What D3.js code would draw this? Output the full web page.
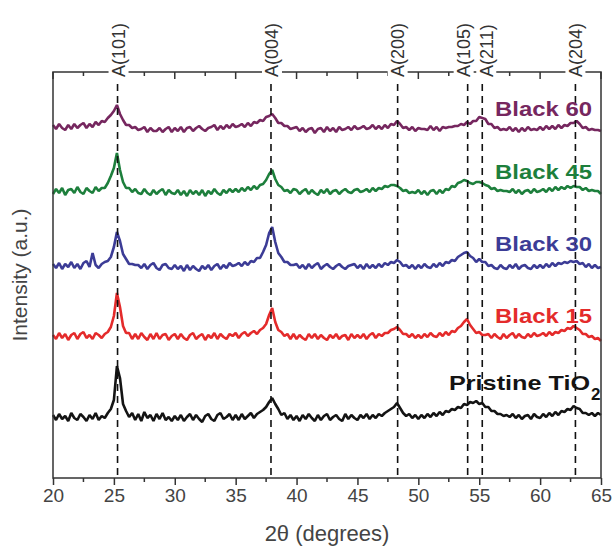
<!DOCTYPE html>
<html>
<head>
<meta charset="utf-8">
<script src="https://cdn.jsdelivr.net/npm/d3@7"></script>
<style>
  body { margin: 0; background: #fff; }
  svg { font-family: "Liberation Sans", Arial, sans-serif; }
</style>
</head>
<body>
<div id="chart"></div>
<script>
// 2theta grid of the scans (degrees), one reading every 0.25
var twoTheta = d3.range(0, 181).map(i => 20 + i * 0.25);

// reflection positions and their labels
var peakPos = [25.3, 37.9, 48.3, 54.05, 55.25, 62.9];
var peakLabels = ['A(101)', 'A(004)', 'A(200)', 'A(105)', 'A(211)', 'A(204)'];

// sample names, stacking offsets (a.u.), colours
var sampleNames = ['Pristine TiO', 'Black 15', 'Black 30', 'Black 45', 'Black 60'];
var sampleOffsets = [60, 141, 211, 286, 349];
var sampleColors = ['#141414', '#e42b2b', '#3c3c96', '#1d7f3c', '#76275f'];

// intensities above each offset (a.u.)
var pristine = [
  3,-2,4,-1,2,-3,5,0,-2,4,1,-3,3,-1,5,-2,2,0,5,9,
  18,52,40,14,7,1,5,-2,4,-3,6,0,3,-3,4,-1,5,-2,1,-3,
  2,-2,3,-3,1,4,-2,3,-1,-4,2,4,-1,-3,3,5,-1,1,4,-2,
  3,-2,4,-1,2,5,0,4,6,8,11,16,20,14,9,3,5,-1,3,-2,
  2,-3,3,-1,4,0,-3,3,-2,2,4,-2,1,3,-1,-3,4,-1,3,0,
  -2,3,0,4,-1,3,0,4,2,5,7,9,11,15,10,5,2,4,0,3,
  -1,3,0,4,1,5,2,6,3,7,6,9,8,11,10,14,13,16,15,17,
  14,15,11,11,7,7,4,4,2,3,1,4,0,3,-1,2,3,-1,4,1,
  0,4,1,5,2,6,3,7,6,9,8,12,10,9,5,5,3,5,2,5,3
];
var black15 = [
  2,-2,4,-1,3,-3,2,4,-2,3,5,-1,2,-2,4,2,-1,3,5,10,
  21,44,30,11,4,4,-2,3,-2,4,0,-3,3,-2,4,-2,2,3,-3,1,
  3,-2,3,-1,-3,2,4,-2,1,3,-3,2,-1,4,-2,3,0,-2,3,1,
  4,-1,3,5,1,4,6,3,7,9,13,22,29,15,7,5,1,3,-2,3,
  -2,2,-1,-3,3,-1,3,-2,2,-1,-3,2,-1,3,-2,1,2,-3,3,-1,
  2,-1,3,-2,2,4,-1,3,1,4,4,7,8,10,7,3,3,0,3,-1,
  2,-1,3,0,4,1,0,4,1,5,2,6,5,9,11,15,18,12,8,4,
  5,2,2,3,-1,3,0,-2,3,-1,2,4,-1,3,0,-1,3,0,4,1,
  2,4,1,5,2,5,4,7,6,9,8,11,9,7,3,3,0,1,-2,-1,-4
];
var black30 = [
  3,-1,4,-2,3,0,5,-1,3,-2,4,6,0,14,2,-1,3,5,6,10,
  20,35,26,13,8,3,3,2,2,-1,3,-2,2,4,-1,-3,2,3,-1,-2,
  2,-2,1,-4,2,-3,1,-2,-4,1,-2,2,-3,1,3,-2,2,-1,4,1,
  2,4,1,5,2,6,5,9,9,15,22,34,40,25,14,10,5,5,2,2,
  3,-1,2,-2,3,-1,2,4,-2,1,3,0,-2,1,3,0,-2,1,2,3,
  -1,2,-2,3,-1,2,-1,3,0,4,2,5,4,7,5,1,2,-1,2,-2,
  2,-1,3,0,-1,3,0,4,1,5,4,7,6,10,12,14,15,11,9,5,
  8,5,5,1,2,-1,-2,2,-1,-2,2,-1,3,-2,1,2,-1,-2,2,-1,
  2,-1,3,0,4,1,4,3,5,4,6,5,6,3,4,0,3,-1,2,-1,0
];
var black45 = [
  -2,3,-1,4,-3,2,3,-1,5,0,-2,4,1,-1,5,1,4,4,9,16,
  24,39,22,10,4,4,0,3,-1,-2,3,-1,-3,2,-2,1,3,-3,2,-1,
  -2,2,-3,1,-4,2,-2,1,-3,2,-4,1,-2,3,-1,-3,2,-1,3,0,
  3,0,4,1,5,2,6,3,7,8,12,18,22,13,7,5,1,2,-1,3,
  2,-2,1,3,-2,2,-1,-3,2,-1,3,-2,1,2,-2,1,3,0,-1,2,
  3,0,1,3,0,4,1,4,3,6,5,7,7,6,4,1,2,-1,0,-1,
  2,-2,1,-3,1,2,-2,2,-1,3,2,6,5,9,10,12,11,9,8,10,
  10,9,7,6,3,4,1,2,1,1,0,3,-1,2,-2,1,2,-1,3,0,
  1,3,0,4,1,5,2,5,3,6,4,6,5,5,2,4,1,2,1,1,-2
];
var black60 = [
  4,0,5,1,-1,4,0,5,1,4,6,1,5,2,7,4,8,7,11,14,
  18,24,15,9,4,4,1,2,-1,0,2,-3,1,-2,-2,1,-3,0,2,-3,
  1,-2,2,-3,1,2,-2,1,3,0,-2,1,2,4,-1,3,0,4,1,5,
  2,3,5,2,6,3,7,6,9,8,12,13,15,11,6,6,3,3,0,1,
  2,-2,1,-3,0,1,-4,0,1,-3,2,-2,1,-3,2,-1,0,2,-1,3,
  0,1,3,0,1,4,0,3,0,4,1,5,4,8,5,1,2,-1,2,-2,
  1,0,0,-1,3,-1,2,-2,2,1,2,2,3,3,5,4,7,5,8,8,
  12,11,10,5,5,1,2,-1,0,-1,2,-2,1,-3,1,-2,2,-1,0,-1,
  2,-1,3,0,3,0,4,1,4,3,6,6,8,5,1,2,-1,0,-1,-1,-2
];
var sampleSeries = [pristine, black15, black30, black45, black60];

var xTicks = [20, 25, 30, 35, 40, 45, 50, 55, 60, 65];

function drawChart() {
  var W = 616, H = 554;
  var m = {left: 53, top: 72, right: 15, bottom: 76};
  var w = W - m.left - m.right;   // 548
  var h = H - m.top - m.bottom;   // 406

  var svg = d3.select('#chart').append('svg')
    .attr('width', W)
    .attr('height', H);
  var g = svg.append('g').attr('transform', 'translate(' + m.left + ',' + m.top + ')');

  var x = d3.scaleLinear().domain([20, 65]).range([0, w]);
  var y = d3.scaleLinear().domain([0, 406]).range([h, 0]);

  // scans
  var line = d3.line()
    .x(d => x(d[0]))
    .y(d => y(d[1]));

  sampleSeries.forEach(function(vals, k) {
    var pts = vals.map((v, i) => [twoTheta[i], v + sampleOffsets[k]]);
    g.append('path')
      .datum(pts)
      .attr('fill', 'none')
      .attr('stroke', sampleColors[k])
      .attr('stroke-width', 2.6)
      .attr('stroke-linejoin', 'bevel')
      .attr('d', line);
  });

  // dashed reflection markers
  g.selectAll('line.peak')
    .data(peakPos)
    .enter().append('line')
      .attr('class', 'peak')
      .attr('x1', d => x(d)).attr('x2', d => x(d))
      .attr('y1', 0).attr('y2', h)
      .attr('stroke', '#111')
      .attr('stroke-width', 1.6)
      .attr('stroke-dasharray', '7,5');

  // frame
  g.append('rect')
    .attr('width', w).attr('height', h)
    .attr('fill', 'none')
    .attr('stroke', '#333')
    .attr('stroke-width', 1.5);

  // bottom axis, major ticks outward, minor ticks shorter
  var minor = d3.range(22.5, 65, 5);
  var bottom = g.append('g').attr('transform', 'translate(0,' + h + ')');
  bottom.call(d3.axisBottom(x).tickValues(xTicks).tickSize(7).tickPadding(4).tickFormat(d3.format('d')));
  bottom.selectAll('.tick line').attr('stroke', '#333').attr('stroke-width', 1.5);
  bottom.select('.domain').remove();
  bottom.selectAll('.tick text')
    .attr('fill', '#444')
    .style('font-size', '19px')
    .style('font-family', '"Liberation Sans", Arial, sans-serif');
  bottom.selectAll('line.minor')
    .data(minor)
    .enter().append('line')
      .attr('class', 'minor')
      .attr('x1', d => x(d)).attr('x2', d => x(d))
      .attr('y1', 0).attr('y2', 4)
      .attr('stroke', '#333').attr('stroke-width', 1.5);

  // top axis ticks pointing inward
  g.selectAll('line.topmaj')
    .data(xTicks)
    .enter().append('line')
      .attr('x1', d => x(d)).attr('x2', d => x(d))
      .attr('y1', 0).attr('y2', 7)
      .attr('stroke', '#333').attr('stroke-width', 1.5);
  g.selectAll('line.topmin')
    .data(minor)
    .enter().append('line')
      .attr('x1', d => x(d)).attr('x2', d => x(d))
      .attr('y1', 0).attr('y2', 4)
      .attr('stroke', '#333').attr('stroke-width', 1.5);

  // reflection labels with white boxes across the top frame
  var labelShift = [1, 1, 0, -4, 4, 0];
  var lab = g.selectAll('g.plab')
    .data(peakPos)
    .enter().append('g')
      .attr('class', 'plab')
      .attr('transform', (d, i) => 'translate(' + (x(d) + labelShift[i]) + ',5) rotate(-90)');
  lab.append('rect')
    .attr('x', -2).attr('y', -10)
    .attr('width', 62).attr('height', 20)
    .attr('fill', '#fff');
  lab.append('text')
    .attr('x', 0).attr('y', 0)
    .attr('dy', '0.35em')
    .attr('fill', '#333')
    .style('font-size', '18px')
    .text((d, i) => peakLabels[i]);

  // sample names
  var namePos = [[396, 318], [442, 251], [442, 179], [442, 107], [442, 44]];
  var nameLen = [141, 97, 97, 97, 97];
  sampleNames.forEach(function(name, k) {
    g.append('text')
      .attr('x', namePos[k][0])
      .attr('y', namePos[k][1])
      .attr('fill', sampleColors[k])
      .attr('textLength', nameLen[k])
      .attr('lengthAdjust', 'spacingAndGlyphs')
      .style('font-size', k === 0 ? '21px' : '20px')
      .style('font-weight', 'bold')
      .text(name);
    if (k === 0) {
      g.append('text')
        .attr('x', namePos[k][0] + nameLen[k] + 1)
        .attr('y', namePos[k][1] + 10)
        .attr('fill', sampleColors[k])
        .style('font-size', '17px')
        .style('font-weight', 'bold')
        .text('2');
    }
  });

  // axis titles
  svg.append('text')
    .attr('x', m.left + w / 2)
    .attr('y', 541)
    .attr('text-anchor', 'middle')
    .attr('fill', '#444')
    .style('font-size', '22px')
    .text('2θ (degrees)');
  svg.append('text')
    .attr('transform', 'translate(27,' + (m.top + h / 2) + ') rotate(-90)')
    .attr('text-anchor', 'middle')
    .attr('fill', '#444')
    .style('font-size', '21px')
    .text('Intensity (a.u.)');
}

drawChart();
</script>
</body>
</html>
